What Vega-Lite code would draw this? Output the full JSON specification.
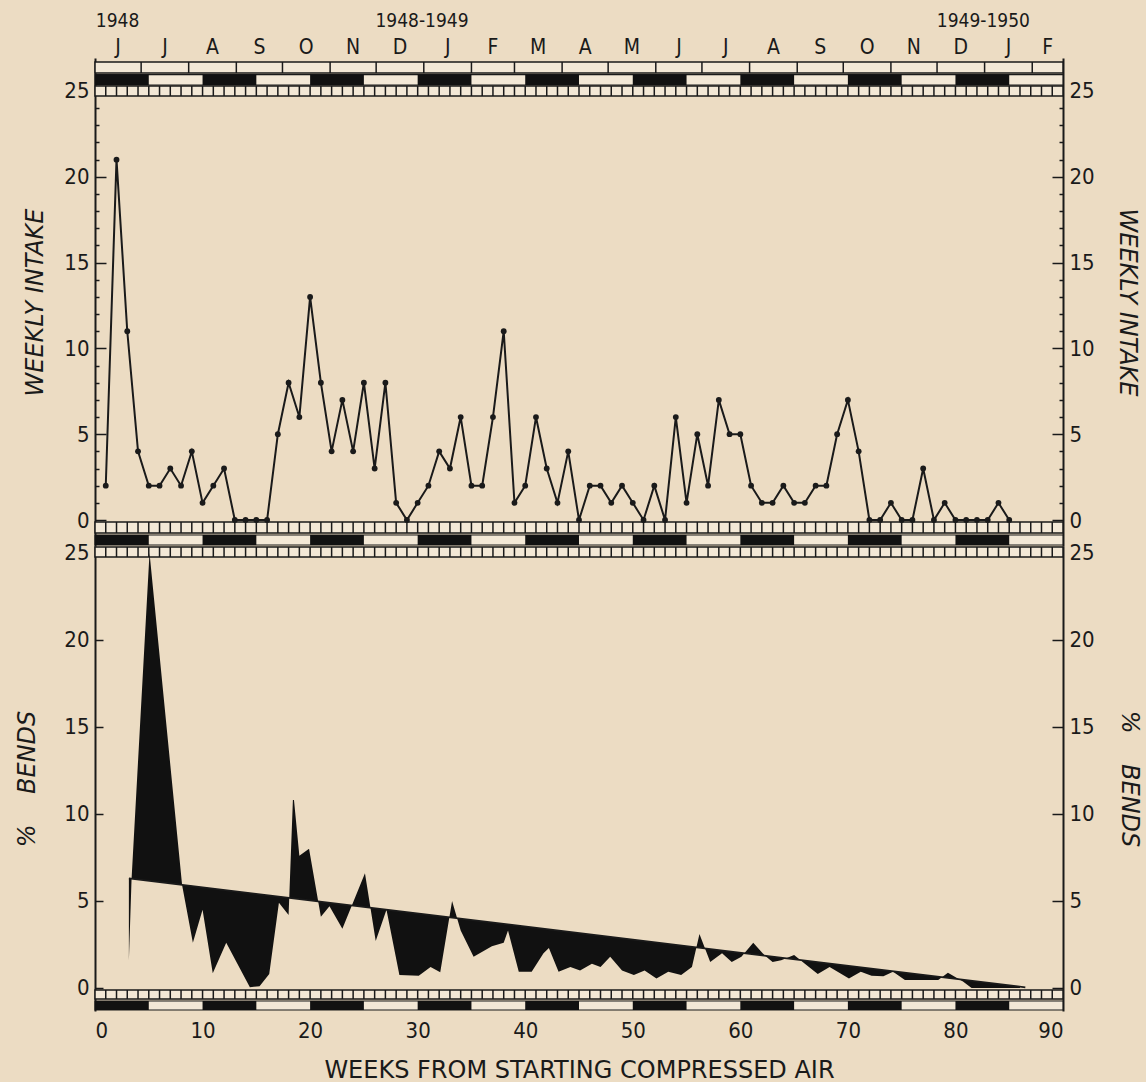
{
  "$schema": "https://vega.github.io/schema/vega-lite/v6.json",
  "background": "#ecdcc3",
  "padding": {"left": 15, "top": 0, "right": 5, "bottom": 0},
  "spacing": 0,
  "bounds": "flush",
  "config": {
    "view": {"stroke": null},
    "font": "DejaVu Sans Condensed, Liberation Sans Narrow, DejaVu Sans",
    "concat": {"spacing": 0},
    "axis": {
      "labelFontSize": 22, "labelColor": "#1a1a1a", "titleColor": "#1a1a1a",
      "domainColor": "#1a1a1a", "domainWidth": 2, "tickColor": "#1a1a1a", "tickWidth": 1.5,
      "grid": false, "titleFontWeight": "normal", "titleFontSize": 24,
      "labelFont": "DejaVu Sans Condensed, Liberation Sans Narrow, DejaVu Sans",
      "titleFont": "DejaVu Sans, sans-serif"
    }
  },
  "datasets": {
    "intake": [
      {"week": 1, "intake": 2}, {"week": 2, "intake": 21}, {"week": 3, "intake": 11}, {"week": 4, "intake": 4},
      {"week": 5, "intake": 2}, {"week": 6, "intake": 2}, {"week": 7, "intake": 3}, {"week": 8, "intake": 2},
      {"week": 9, "intake": 4}, {"week": 10, "intake": 1}, {"week": 11, "intake": 2}, {"week": 12, "intake": 3},
      {"week": 13, "intake": 0}, {"week": 14, "intake": 0}, {"week": 15, "intake": 0}, {"week": 16, "intake": 0},
      {"week": 17, "intake": 5}, {"week": 18, "intake": 8}, {"week": 19, "intake": 6}, {"week": 20, "intake": 13},
      {"week": 21, "intake": 8}, {"week": 22, "intake": 4}, {"week": 23, "intake": 7}, {"week": 24, "intake": 4},
      {"week": 25, "intake": 8}, {"week": 26, "intake": 3}, {"week": 27, "intake": 8}, {"week": 28, "intake": 1},
      {"week": 29, "intake": 0}, {"week": 30, "intake": 1}, {"week": 31, "intake": 2}, {"week": 32, "intake": 4},
      {"week": 33, "intake": 3}, {"week": 34, "intake": 6}, {"week": 35, "intake": 2}, {"week": 36, "intake": 2},
      {"week": 37, "intake": 6}, {"week": 38, "intake": 11}, {"week": 39, "intake": 1}, {"week": 40, "intake": 2},
      {"week": 41, "intake": 6}, {"week": 42, "intake": 3}, {"week": 43, "intake": 1}, {"week": 44, "intake": 4},
      {"week": 45, "intake": 0}, {"week": 46, "intake": 2}, {"week": 47, "intake": 2}, {"week": 48, "intake": 1},
      {"week": 49, "intake": 2}, {"week": 50, "intake": 1}, {"week": 51, "intake": 0}, {"week": 52, "intake": 2},
      {"week": 53, "intake": 0}, {"week": 54, "intake": 6}, {"week": 55, "intake": 1}, {"week": 56, "intake": 5},
      {"week": 57, "intake": 2}, {"week": 58, "intake": 7}, {"week": 59, "intake": 5}, {"week": 60, "intake": 5},
      {"week": 61, "intake": 2}, {"week": 62, "intake": 1}, {"week": 63, "intake": 1}, {"week": 64, "intake": 2},
      {"week": 65, "intake": 1}, {"week": 66, "intake": 1}, {"week": 67, "intake": 2}, {"week": 68, "intake": 2},
      {"week": 69, "intake": 5}, {"week": 70, "intake": 7}, {"week": 71, "intake": 4}, {"week": 72, "intake": 0},
      {"week": 73, "intake": 0}, {"week": 74, "intake": 1}, {"week": 75, "intake": 0}, {"week": 76, "intake": 0},
      {"week": 77, "intake": 3}, {"week": 78, "intake": 0}, {"week": 79, "intake": 1}, {"week": 80, "intake": 0},
      {"week": 81, "intake": 0}, {"week": 82, "intake": 0}, {"week": 83, "intake": 0}, {"week": 84, "intake": 1},
      {"week": 85, "intake": 0}
    ],
    "bends": [
      {"week": 3.15, "bends": 1.6, "trend": 6.3},
      {"week": 3.4, "bends": 6.28, "trend": 6.285},
      {"week": 5.07, "bends": 25, "trend": 6.159},
      {"week": 8.1, "bends": 5.9, "trend": 5.932},
      {"week": 9.1, "bends": 2.6, "trend": 5.856},
      {"week": 10.0, "bends": 4.5, "trend": 5.789},
      {"week": 10.95, "bends": 0.85, "trend": 5.717},
      {"week": 12.2, "bends": 2.6, "trend": 5.623},
      {"week": 14.4, "bends": 0.05, "trend": 5.458},
      {"week": 15.3, "bends": 0.1, "trend": 5.39},
      {"week": 16.2, "bends": 0.8, "trend": 5.323},
      {"week": 17.1, "bends": 4.9, "trend": 5.255},
      {"week": 18.0, "bends": 4.2, "trend": 5.187},
      {"week": 18.4, "bends": 10.8, "trend": 5.157},
      {"week": 18.5, "bends": 10.8, "trend": 5.15},
      {"week": 19.0, "bends": 7.6, "trend": 5.112},
      {"week": 19.9, "bends": 8.0, "trend": 5.045},
      {"week": 21.0, "bends": 4.1, "trend": 4.962},
      {"week": 21.8, "bends": 4.7, "trend": 4.902},
      {"week": 23.0, "bends": 3.4, "trend": 4.811},
      {"week": 25.1, "bends": 6.6, "trend": 4.654},
      {"week": 26.1, "bends": 2.7, "trend": 4.578},
      {"week": 27.1, "bends": 4.5, "trend": 4.503},
      {"week": 28.3, "bends": 0.75, "trend": 4.413},
      {"week": 30.1, "bends": 0.7, "trend": 4.278},
      {"week": 31.2, "bends": 1.2, "trend": 4.195},
      {"week": 32.1, "bends": 0.9, "trend": 4.127},
      {"week": 33.2, "bends": 5.0, "trend": 4.045},
      {"week": 34.0, "bends": 3.3, "trend": 3.984},
      {"week": 35.2, "bends": 1.8, "trend": 3.894},
      {"week": 36.9, "bends": 2.4, "trend": 3.766},
      {"week": 38.0, "bends": 2.6, "trend": 3.684},
      {"week": 38.4, "bends": 3.3, "trend": 3.654},
      {"week": 39.4, "bends": 0.94, "trend": 3.579},
      {"week": 40.6, "bends": 0.94, "trend": 3.488},
      {"week": 41.7, "bends": 2.0, "trend": 3.406},
      {"week": 42.2, "bends": 2.3, "trend": 3.368},
      {"week": 43.1, "bends": 0.94, "trend": 3.3},
      {"week": 44.2, "bends": 1.2, "trend": 3.218},
      {"week": 45.1, "bends": 1.0, "trend": 3.15},
      {"week": 46.2, "bends": 1.4, "trend": 3.067},
      {"week": 47.0, "bends": 1.2, "trend": 3.007},
      {"week": 47.9, "bends": 1.8, "trend": 2.94},
      {"week": 49.0, "bends": 1.0, "trend": 2.857},
      {"week": 50.1, "bends": 0.75, "trend": 2.774},
      {"week": 51.1, "bends": 1.0, "trend": 2.699},
      {"week": 52.2, "bends": 0.55, "trend": 2.616},
      {"week": 53.3, "bends": 0.94, "trend": 2.534},
      {"week": 54.5, "bends": 0.75, "trend": 2.443},
      {"week": 55.5, "bends": 1.2, "trend": 2.368},
      {"week": 56.2, "bends": 3.1, "trend": 2.315},
      {"week": 57.2, "bends": 1.5, "trend": 2.24},
      {"week": 58.3, "bends": 2.0, "trend": 2.158},
      {"week": 59.2, "bends": 1.5, "trend": 2.09},
      {"week": 60.1, "bends": 1.8, "trend": 2.022},
      {"week": 61.2, "bends": 2.6, "trend": 1.94},
      {"week": 62.3, "bends": 1.85, "trend": 1.857},
      {"week": 63.0, "bends": 1.5, "trend": 1.804},
      {"week": 63.8, "bends": 1.6, "trend": 1.744},
      {"week": 65.0, "bends": 1.9, "trend": 1.654},
      {"week": 66.0, "bends": 1.4, "trend": 1.579},
      {"week": 67.2, "bends": 0.8, "trend": 1.488},
      {"week": 68.3, "bends": 1.2, "trend": 1.406},
      {"week": 70.1, "bends": 0.55, "trend": 1.27},
      {"week": 71.2, "bends": 0.94, "trend": 1.187},
      {"week": 72.2, "bends": 0.7, "trend": 1.113},
      {"week": 73.3, "bends": 0.67, "trend": 1.03},
      {"week": 74.2, "bends": 0.94, "trend": 0.962},
      {"week": 75.3, "bends": 0.46, "trend": 0.88},
      {"week": 78.4, "bends": 0.46, "trend": 0.647},
      {"week": 79.3, "bends": 0.88, "trend": 0.579},
      {"week": 80.7, "bends": 0.38, "trend": 0.474},
      {"week": 81.5, "bends": 0.0, "trend": 0.413},
      {"week": 86.0, "bends": 0.0, "trend": 0.075}
    ],
    "trendline": [
      {"week": 3.15, "trend": 6.3},
      {"week": 86.5, "trend": 0.04}
    ],
    "months": [
      {"m": "J", "start": 0, "end": 4.29, "mid": 2.14},
      {"m": "J", "start": 4.29, "end": 8.71, "mid": 6.5},
      {"m": "A", "start": 8.71, "end": 13.14, "mid": 10.93},
      {"m": "S", "start": 13.14, "end": 17.43, "mid": 15.29},
      {"m": "O", "start": 17.43, "end": 21.86, "mid": 19.64},
      {"m": "N", "start": 21.86, "end": 26.14, "mid": 24},
      {"m": "D", "start": 26.14, "end": 30.57, "mid": 28.36},
      {"m": "J", "start": 30.57, "end": 35, "mid": 32.79},
      {"m": "F", "start": 35, "end": 39, "mid": 37},
      {"m": "M", "start": 39, "end": 43.43, "mid": 41.21},
      {"m": "A", "start": 43.43, "end": 47.71, "mid": 45.57},
      {"m": "M", "start": 47.71, "end": 52.14, "mid": 49.93},
      {"m": "J", "start": 52.14, "end": 56.43, "mid": 54.29},
      {"m": "J", "start": 56.43, "end": 60.86, "mid": 58.64},
      {"m": "A", "start": 60.86, "end": 65.29, "mid": 63.07},
      {"m": "S", "start": 65.29, "end": 69.57, "mid": 67.43},
      {"m": "O", "start": 69.57, "end": 74, "mid": 71.79},
      {"m": "N", "start": 74, "end": 78.29, "mid": 76.14},
      {"m": "D", "start": 78.29, "end": 82.71, "mid": 80.5},
      {"m": "J", "start": 82.71, "end": 87.14, "mid": 84.93},
      {"m": "F", "start": 87.14, "end": 90, "mid": 88.57}
    ],
    "years": [
      {"label": "1948", "pos": 2.1},
      {"label": "1948-1949", "pos": 30.4},
      {"label": "1949-1950", "pos": 82.6}
    ],
    "blocks": [
      {"start": 0, "end": 5}, {"start": 10, "end": 15}, {"start": 20, "end": 25},
      {"start": 30, "end": 35}, {"start": 40, "end": 45}, {"start": 50, "end": 55},
      {"start": 60, "end": 65}, {"start": 70, "end": 75}, {"start": 80, "end": 85}
    ],
    "weeks": [
      {"w": 1}, {"w": 2}, {"w": 3}, {"w": 4}, {"w": 5}, {"w": 6}, {"w": 7}, {"w": 8}, {"w": 9}, {"w": 10},
      {"w": 11}, {"w": 12}, {"w": 13}, {"w": 14}, {"w": 15}, {"w": 16}, {"w": 17}, {"w": 18}, {"w": 19}, {"w": 20},
      {"w": 21}, {"w": 22}, {"w": 23}, {"w": 24}, {"w": 25}, {"w": 26}, {"w": 27}, {"w": 28}, {"w": 29}, {"w": 30},
      {"w": 31}, {"w": 32}, {"w": 33}, {"w": 34}, {"w": 35}, {"w": 36}, {"w": 37}, {"w": 38}, {"w": 39}, {"w": 40},
      {"w": 41}, {"w": 42}, {"w": 43}, {"w": 44}, {"w": 45}, {"w": 46}, {"w": 47}, {"w": 48}, {"w": 49}, {"w": 50},
      {"w": 51}, {"w": 52}, {"w": 53}, {"w": 54}, {"w": 55}, {"w": 56}, {"w": 57}, {"w": 58}, {"w": 59}, {"w": 60},
      {"w": 61}, {"w": 62}, {"w": 63}, {"w": 64}, {"w": 65}, {"w": 66}, {"w": 67}, {"w": 68}, {"w": 69}, {"w": 70},
      {"w": 71}, {"w": 72}, {"w": 73}, {"w": 74}, {"w": 75}, {"w": 76}, {"w": 77}, {"w": 78}, {"w": 79}, {"w": 80},
      {"w": 81}, {"w": 82}, {"w": 83}, {"w": 84}, {"w": 85}, {"w": 86}, {"w": 87}, {"w": 88}, {"w": 89}
    ]
  },
  "vconcat": [
    {
      "width": 968,
      "height": 58,
      "layer": [
        {
          "data": {"name": "years"},
          "mark": {"type": "text", "fontSize": 19, "color": "#1a1a1a", "baseline": "middle"},
          "encoding": {
            "x": {"field": "pos", "type": "quantitative", "scale": {"domain": [0, 90], "nice": false, "zero": false}, "axis": null},
            "y": {"datum": 0.64, "type": "quantitative", "scale": {"domain": [0, 1], "nice": false}, "axis": null},
            "text": {"field": "label"}
          }
        },
        {
          "data": {"name": "months"},
          "mark": {"type": "text", "fontSize": 21, "color": "#1a1a1a", "baseline": "middle"},
          "encoding": {
            "x": {"field": "mid", "type": "quantitative", "scale": {"domain": [0, 90], "nice": false, "zero": false}, "axis": null},
            "y": {"datum": 0.17, "type": "quantitative", "scale": {"domain": [0, 1], "nice": false}, "axis": null},
            "text": {"field": "m"}
          }
        }
      ]
    },
    {
      "width": 968,
      "height": 488,
      "resolve": {"axis": {"y": "independent"}},
      "layer": [
        {
          "data": {"values": [{}]},
          "mark": {"type": "rect", "fill": "#f3e8d6", "stroke": "#1a1a1a", "strokeWidth": 1.5},
          "encoding": {
            "x": {"datum": 0, "type": "quantitative", "scale": {"domain": [0, 90], "nice": false, "zero": false}, "axis": null},
            "x2": {"datum": 90},
            "y": {"datum": 26.69, "type": "quantitative", "scale": {"domain": [-1.515, 26.923], "nice": false, "zero": false}, "axis": null},
            "y2": {"datum": 26.05}
          }
        },
        {
          "data": {"name": "months"},
          "transform": [{"filter": "datum.start > 0"}],
          "mark": {"type": "rule", "stroke": "#1a1a1a", "strokeWidth": 1.5},
          "encoding": {
            "x": {"field": "start", "type": "quantitative", "scale": {"domain": [0, 90], "nice": false, "zero": false}, "axis": null},
            "y": {"datum": 26.69, "type": "quantitative", "scale": {"domain": [-1.515, 26.923], "nice": false, "zero": false}, "axis": null},
            "y2": {"datum": 26.05}
          }
        },
        {
          "data": {"values": [{}]},
          "mark": {"type": "rect", "fill": "#f3e8d6", "stroke": "#1a1a1a", "strokeWidth": 1.2},
          "encoding": {
            "x": {"datum": 0, "type": "quantitative", "scale": {"domain": [0, 90], "nice": false, "zero": false}, "axis": null},
            "x2": {"datum": 90},
            "y": {"datum": 25.96, "type": "quantitative", "scale": {"domain": [-1.515, 26.923], "nice": false, "zero": false}, "axis": null},
            "y2": {"datum": 25.35}
          }
        },
        {
          "data": {"name": "blocks"},
          "mark": {"type": "rect", "fill": "#111111"},
          "encoding": {
            "x": {"field": "start", "type": "quantitative", "scale": {"domain": [0, 90], "nice": false, "zero": false}, "axis": null},
            "x2": {"field": "end"},
            "y": {"datum": 25.96, "type": "quantitative", "scale": {"domain": [-1.515, 26.923], "nice": false, "zero": false}, "axis": null},
            "y2": {"datum": 25.35}
          }
        },
        {
          "data": {"values": [{}]},
          "mark": {"type": "rect", "fill": "#f3e8d6", "stroke": "#1a1a1a", "strokeWidth": 1.5},
          "encoding": {
            "x": {"datum": 0, "type": "quantitative", "scale": {"domain": [0, 90], "nice": false, "zero": false}, "axis": null},
            "x2": {"datum": 90},
            "y": {"datum": 25.29, "type": "quantitative", "scale": {"domain": [-1.515, 26.923], "nice": false, "zero": false}, "axis": null},
            "y2": {"datum": 24.71}
          }
        },
        {
          "data": {"name": "weeks"},
          "mark": {"type": "rule", "stroke": "#1a1a1a", "strokeWidth": 1.5},
          "encoding": {
            "x": {"field": "w", "type": "quantitative", "scale": {"domain": [0, 90], "nice": false, "zero": false}, "axis": null},
            "y": {"datum": 25.29, "type": "quantitative", "scale": {"domain": [-1.515, 26.923], "nice": false, "zero": false}, "axis": null},
            "y2": {"datum": 24.71}
          }
        },
        {
          "data": {"values": [{}]},
          "mark": {"type": "rect", "fill": "#f3e8d6", "stroke": "#1a1a1a", "strokeWidth": 1.5},
          "encoding": {
            "x": {"datum": 0, "type": "quantitative", "scale": {"domain": [0, 90], "nice": false, "zero": false}, "axis": null},
            "x2": {"datum": 90},
            "y": {"datum": -0.117, "type": "quantitative", "scale": {"domain": [-1.515, 26.923], "nice": false, "zero": false}, "axis": null},
            "y2": {"datum": -0.758}
          }
        },
        {
          "data": {"name": "weeks"},
          "mark": {"type": "rule", "stroke": "#1a1a1a", "strokeWidth": 1.5},
          "encoding": {
            "x": {"field": "w", "type": "quantitative", "scale": {"domain": [0, 90], "nice": false, "zero": false}, "axis": null},
            "y": {"datum": -0.117, "type": "quantitative", "scale": {"domain": [-1.515, 26.923], "nice": false, "zero": false}, "axis": null},
            "y2": {"datum": -0.758}
          }
        },
        {
          "data": {"values": [{}]},
          "mark": {"type": "rect", "fill": "#f3e8d6", "stroke": "#1a1a1a", "strokeWidth": 1.2},
          "encoding": {
            "x": {"datum": 0, "type": "quantitative", "scale": {"domain": [0, 90], "nice": false, "zero": false}, "axis": null},
            "x2": {"datum": 90},
            "y": {"datum": -0.874, "type": "quantitative", "scale": {"domain": [-1.515, 26.923], "nice": false, "zero": false}, "axis": null},
            "y2": {"datum": -1.457}
          }
        },
        {
          "data": {"name": "blocks"},
          "mark": {"type": "rect", "fill": "#111111"},
          "encoding": {
            "x": {"field": "start", "type": "quantitative", "scale": {"domain": [0, 90], "nice": false, "zero": false}, "axis": null},
            "x2": {"field": "end"},
            "y": {"datum": -0.874, "type": "quantitative", "scale": {"domain": [-1.515, 26.923], "nice": false, "zero": false}, "axis": null},
            "y2": {"datum": -1.457}
          }
        },
        {
          "data": {"name": "intake"},
          "mark": {"type": "line", "stroke": "#1a1a1a", "strokeWidth": 2},
          "encoding": {
            "x": {"field": "week", "type": "quantitative", "scale": {"domain": [0, 90], "nice": false, "zero": false}, "axis": null},
            "y": {
              "field": "intake", "type": "quantitative",
              "scale": {"domain": [-1.515, 26.923], "nice": false, "zero": false},
              "axis": {
                "orient": "left",
                "values": [0, 1, 2, 3, 4, 5, 6, 7, 8, 9, 10, 11, 12, 13, 14, 15, 16, 17, 18, 19, 20, 21, 22, 23, 24, 25],
                "labelExpr": "datum.value % 5 === 0 ? datum.label : ''",
                "tickSize": {"condition": {"test": "datum.value % 5 === 0", "value": -11}, "value": -4},
                "labelPadding": 17,
                "title": "WEEKLY INTAKE",
                "titleFontStyle": "italic",
                "titlePadding": 16
              }
            }
          }
        },
        {
          "data": {"name": "intake"},
          "mark": {"type": "point", "filled": true, "size": 34, "color": "#1a1a1a", "opacity": 1},
          "encoding": {
            "x": {"field": "week", "type": "quantitative", "scale": {"domain": [0, 90], "nice": false, "zero": false}, "axis": null},
            "y": {
              "field": "intake", "type": "quantitative",
              "scale": {"domain": [-1.515, 26.923], "nice": false, "zero": false},
              "axis": {
                "orient": "right",
                "values": [0, 1, 2, 3, 4, 5, 6, 7, 8, 9, 10, 11, 12, 13, 14, 15, 16, 17, 18, 19, 20, 21, 22, 23, 24, 25],
                "labelExpr": "datum.value % 5 === 0 ? datum.label : ''",
                "tickSize": {"condition": {"test": "datum.value % 5 === 0", "value": -11}, "value": -4},
                "labelPadding": 17,
                "title": "WEEKLY INTAKE",
                "titleFontStyle": "italic",
                "titleAngle": 90,
                "titlePadding": 20
              }
            }
          }
        }
      ]
    },
    {
      "width": 968,
      "height": 465,
      "resolve": {"axis": {"x": "independent", "y": "independent"}},
      "layer": [
        {
          "data": {"values": [{}]},
          "mark": {"type": "rect", "fill": "#f3e8d6", "stroke": "#1a1a1a", "strokeWidth": 1.5},
          "encoding": {
            "x": {"datum": 0, "type": "quantitative", "scale": {"domain": [0, 90], "nice": false, "zero": false}, "axis": null},
            "x2": {"datum": 90},
            "y": {"datum": 25.345, "type": "quantitative", "scale": {"domain": [-1.322, 25.402], "nice": false, "zero": false}, "axis": null},
            "y2": {"datum": 24.77}
          }
        },
        {
          "data": {"name": "weeks"},
          "mark": {"type": "rule", "stroke": "#1a1a1a", "strokeWidth": 1.5},
          "encoding": {
            "x": {"field": "w", "type": "quantitative", "scale": {"domain": [0, 90], "nice": false, "zero": false}, "axis": null},
            "y": {"datum": 25.345, "type": "quantitative", "scale": {"domain": [-1.322, 25.402], "nice": false, "zero": false}, "axis": null},
            "y2": {"datum": 24.77}
          }
        },
        {
          "data": {"values": [{}]},
          "mark": {"type": "rect", "fill": "#f3e8d6", "stroke": "#1a1a1a", "strokeWidth": 1.5},
          "encoding": {
            "x": {"datum": 0, "type": "quantitative", "scale": {"domain": [0, 90], "nice": false, "zero": false}, "axis": null},
            "x2": {"datum": 90},
            "y": {"datum": -0.115, "type": "quantitative", "scale": {"domain": [-1.322, 25.402], "nice": false, "zero": false}, "axis": null},
            "y2": {"datum": -0.632}
          }
        },
        {
          "data": {"name": "weeks"},
          "mark": {"type": "rule", "stroke": "#1a1a1a", "strokeWidth": 1.5},
          "encoding": {
            "x": {"field": "w", "type": "quantitative", "scale": {"domain": [0, 90], "nice": false, "zero": false}, "axis": null},
            "y": {"datum": -0.115, "type": "quantitative", "scale": {"domain": [-1.322, 25.402], "nice": false, "zero": false}, "axis": null},
            "y2": {"datum": -0.632}
          }
        },
        {
          "data": {"values": [{}]},
          "mark": {"type": "rect", "fill": "#f3e8d6", "stroke": "#1a1a1a", "strokeWidth": 1.2},
          "encoding": {
            "x": {"datum": 0, "type": "quantitative", "scale": {"domain": [0, 90], "nice": false, "zero": false}, "axis": null},
            "x2": {"datum": 90},
            "y": {"datum": -0.747, "type": "quantitative", "scale": {"domain": [-1.322, 25.402], "nice": false, "zero": false}, "axis": null},
            "y2": {"datum": -1.264}
          }
        },
        {
          "data": {"name": "blocks"},
          "mark": {"type": "rect", "fill": "#111111"},
          "encoding": {
            "x": {"field": "start", "type": "quantitative", "scale": {"domain": [0, 90], "nice": false, "zero": false}, "axis": null},
            "x2": {"field": "end"},
            "y": {"datum": -0.747, "type": "quantitative", "scale": {"domain": [-1.322, 25.402], "nice": false, "zero": false}, "axis": null},
            "y2": {"datum": -1.264}
          }
        },
        {
          "data": {"name": "bends"},
          "mark": {"type": "area", "color": "#111111", "opacity": 1, "interpolate": "linear"},
          "encoding": {
            "x": {
              "field": "week", "type": "quantitative",
              "scale": {"domain": [0, 90], "nice": false, "zero": false},
              "axis": {
                "values": [0, 10, 20, 30, 40, 50, 60, 70, 80, 90],
                "tickSize": 0, "domain": false, "labelPadding": 9,
                "title": "WEEKS FROM STARTING COMPRESSED AIR",
                "titlePadding": 17, "titleFontSize": 24
              }
            },
            "y": {
              "field": "bends", "type": "quantitative",
              "scale": {"domain": [-1.322, 25.402], "nice": false, "zero": false},
              "axis": {
                "orient": "left",
                "values": [0, 5, 10, 15, 20, 25],
                "tickSize": -8, "labelPadding": 14,
                "title": "%\u00a0\u00a0\u00a0\u00a0BENDS", "titleFontStyle": "italic", "titlePadding": 24
              }
            },
            "y2": {"field": "trend"}
          }
        },
        {
          "data": {"name": "trendline"},
          "mark": {"type": "line", "stroke": "#1a1a1a", "strokeWidth": 1.8},
          "encoding": {
            "x": {"field": "week", "type": "quantitative", "scale": {"domain": [0, 90], "nice": false, "zero": false}, "axis": null},
            "y": {
              "field": "trend", "type": "quantitative",
              "scale": {"domain": [-1.322, 25.402], "nice": false, "zero": false},
              "axis": {
                "orient": "right",
                "values": [0, 5, 10, 15, 20, 25],
                "tickSize": -11, "labelPadding": 17,
                "title": "%\u00a0\u00a0\u00a0\u00a0BENDS", "titleFontStyle": "italic", "titleAngle": 90, "titlePadding": 22
              }
            }
          }
        }
      ]
    }
  ]
}
